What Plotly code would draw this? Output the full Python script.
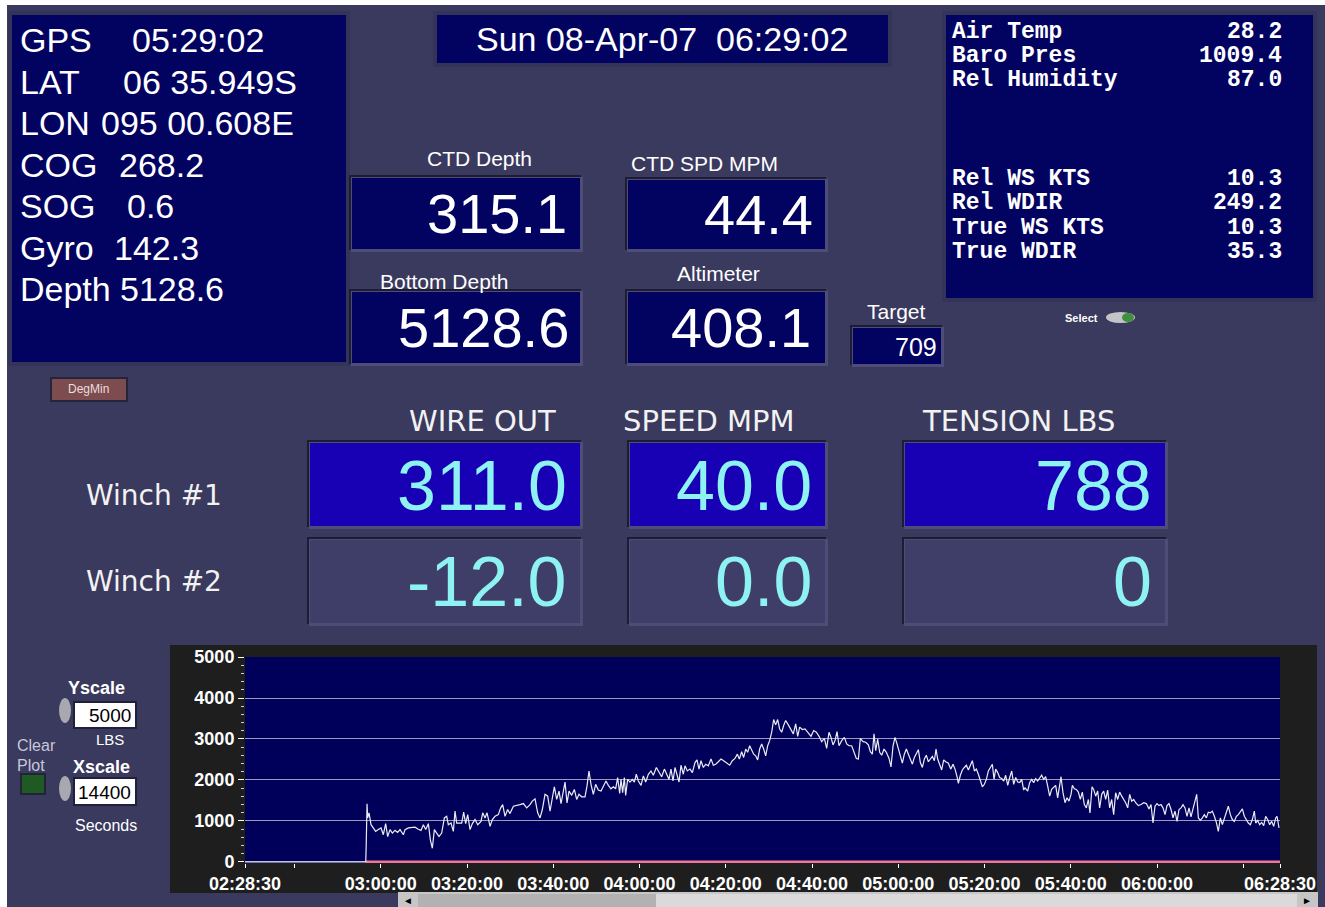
import plotly.graph_objects as go
import pandas as pd

# ---------------- data ----------------
gps_labels = ["GPS", "LAT", "LON", "COG", "SOG", "Gyro", "Depth"]
gps_values = ["05:29:02", "06 35.949S", "095 00.608E", "268.2", "0.6", "142.3", "5128.6"]

date_text = "Sun 08-Apr-07\u00a0\u00a006:29:02"

met_labels = ["Air Temp", "Baro Pres", "Rel Humidity", "Rel WS KTS", "Rel WDIR", "True WS KTS", "True WDIR"]
met_values = ["28.2", "1009.4", "87.0", "10.3", "249.2", "10.3", "35.3"]

ctd_labels = ["CTD Depth", "CTD SPD MPM", "Bottom Depth", "Altimeter"]
ctd_values = ["315.1", "44.4", "5128.6", "408.1"]
target_value = "709"

winch_headers = ["WIRE OUT", "SPEED MPM", "TENSION LBS"]
winch_names = ["Winch #1", "Winch #2"]
winch1_values = ["311.0", "40.0", "788"]
winch2_values = ["-12.0", "0.0", "0"]

yscale_value = "5000"
xscale_value = "14400"

# tension trace: minutes elapsed since 02:28:30, and tension in lbs
elapsed_min = [
    0.0, 28.0, 28.1, 28.3, 28.45, 28.76, 29.22, 29.76, 30.30, 30.92, 31.54, 32.08, 32.62, 33.08, 33.63,
    34.17, 34.79, 35.40, 35.95, 36.72, 37.11, 37.88, 38.65, 39.42, 40.20, 40.81, 41.36, 41.90, 42.52,
    42.98, 43.44, 43.91, 44.45, 44.99, 45.61, 46.23, 46.77, 47.15, 47.77, 48.31, 48.70, 49.09, 49.63,
    50.25, 50.71, 51.17, 51.64, 52.18, 52.72, 53.34, 53.96, 54.73, 55.12, 55.66, 56.12, 56.82, 57.36,
    57.98, 58.75, 59.29, 59.75, 60.30, 60.91, 61.45, 62.23, 63.00, 63.77, 64.55, 65.32, 66.09, 66.63,
    67.25, 67.87, 68.41, 68.95, 69.57, 70.19, 70.73, 71.27, 71.73, 72.28, 72.82, 73.28, 73.82, 74.21,
    74.67, 75.14, 75.75, 76.37, 76.91, 77.45, 78.07, 78.84,
    79.30, 79.77, 80.23, 80.77, 81.31, 81.93, 82.55, 83.09, 83.71, 84.25, 84.87, 85.41, 85.95, 86.41,
    86.88, 87.19, 87.57, 87.96, 88.27, 88.73, 89.27, 89.82, 90.28, 90.74, 91.21, 91.83, 92.37, 92.91,
    93.53, 94.14, 94.69, 95.38, 96.00, 96.62, 97.24, 97.78, 98.32, 98.78, 99.25, 99.71, 100.17, 100.64,
    101.10, 101.64, 102.03, 102.57, 103.19, 103.73, 104.35, 104.81, 105.28, 105.74, 106.28, 106.82,
    107.44, 108.06, 108.60, 109.14, 109.76, 110.38, 110.99, 111.69, 112.39, 113.01, 113.62, 114.17,
    114.63, 115.17, 115.63, 116.10, 116.56, 117.03, 117.49, 117.95, 118.42, 118.88, 119.34, 119.81,
    120.27, 120.74, 121.20, 121.66, 122.13, 122.59, 123.05, 123.52, 123.98, 124.45, 124.91, 125.37,
    125.99, 126.61, 127.15, 127.69, 128.16, 128.62, 129.24, 129.86,
    130.48, 131.25, 131.87, 132.49, 133.11, 133.72, 134.34, 134.88, 135.42, 135.89, 136.35, 136.82,
    137.28, 137.74, 138.36, 138.98, 139.52, 140.06, 140.68, 141.30, 141.76, 142.23, 142.69, 143.31,
    143.93, 144.55, 145.01, 145.47, 145.86, 146.25, 146.71, 147.17, 147.64, 148.18, 148.72, 149.34,
    149.80, 150.27, 150.73, 151.19, 151.66, 152.12, 152.43, 152.89, 153.36, 153.82, 154.29, 154.75,
    155.21, 155.68, 156.14, 156.60, 157.07, 157.53, 157.98, 158.46, 158.92, 159.39, 159.85, 160.24,
    160.62, 161.09, 161.55, 162.02, 162.48, 163.10, 163.64, 164.18, 164.64, 165.11, 165.42, 165.88,
    166.34, 166.81, 167.27, 167.74, 168.20, 168.66, 169.13, 169.59, 170.06, 170.52, 170.98, 171.45,
    171.91, 172.37, 172.84, 173.30, 173.69, 174.07, 174.54, 175.00, 175.47, 175.93, 176.39, 176.86,
    177.32, 177.79, 178.25, 178.71, 179.18, 179.64, 180.10, 180.57, 180.88,
    181.49, 181.95, 182.42, 182.88, 183.34, 183.81, 184.27, 184.73, 185.20, 185.66, 186.13, 186.59,
    187.05, 187.52, 187.98, 188.44, 188.91, 189.22, 189.68, 190.15, 190.61, 191.07, 191.54, 191.85,
    192.31, 192.77, 193.24, 193.70, 194.16, 194.63, 195.09, 195.56, 195.94, 196.41, 196.79, 197.26,
    197.72, 198.18, 198.65, 199.11, 199.58, 200.04, 200.50, 200.97, 201.43, 201.89, 202.36, 202.82,
    203.29, 203.75, 204.21, 204.68, 205.14, 205.61, 206.07, 206.53, 207.15, 207.77, 208.39, 209.01,
    209.62, 210.09, 210.55, 211.02, 211.48, 211.94, 212.41, 212.87, 213.34, 213.80, 214.26, 214.73,
    215.19, 215.65, 216.12, 216.58, 217.05, 217.51, 217.97, 218.44, 218.90, 219.36, 219.83, 220.29,
    220.68, 221.07, 221.53, 221.99, 222.46, 222.92, 223.38, 223.85, 224.31, 224.78, 225.24, 225.70,
    226.17, 226.63, 227.09, 227.56, 228.02, 228.49, 228.95, 229.41, 229.88, 230.34, 230.80, 231.27,
    231.73, 232.20, 232.66, 233.12, 233.59, 234.05, 234.36, 234.82, 235.29, 235.75, 236.22, 236.68,
    237.14, 237.61, 238.07, 238.53, 239.00, 239.31, 239.62, 239.77,
]
tension_lbs = [
    0, 0, 380, 1420, 1075, 1200, 910, 830, 745, 790, 830, 665, 935, 620, 790,
    705, 770, 720, 790, 665, 790, 830, 845, 850, 800, 770, 910, 790, 935,
    540, 335, 790, 705, 620, 705, 1075, 1115, 910, 950, 745, 1240, 950, 950,
    950, 1215, 935, 1155, 790, 935, 1035, 910, 990, 1200, 1075, 1200, 870, 1035,
    1115, 1155, 1320, 1400, 1115, 1280, 1180, 1360, 1375, 1400, 1425, 1320, 1400, 1485,
    1540, 1200, 1075, 1280, 1650, 1605, 1240, 1525, 1835, 1525, 1730, 1425, 1730, 1950,
    1440, 1730, 1625, 1770, 1525, 1650, 1590, 1590,
    1850, 2220, 1895, 1650, 1895, 1755, 1730, 1835, 1975, 1870, 1785, 1835, 1785, 2060,
    1670, 2015, 1690, 2060, 1625, 2015, 1950, 2015, 1950, 2140, 1975, 1870, 2100, 1950,
    2140, 2220, 2115, 2305, 2180, 2080, 2265, 2140, 2015, 2265, 1975, 2305, 2100, 1950,
    2360, 2140, 2345, 2220, 2265, 2180, 2425, 2490, 2265, 2470, 2305, 2385,
    2345, 2510, 2360, 2385, 2445, 2510, 2470, 2425, 2360, 2470, 2525, 2630,
    2510, 2690, 2550, 2755, 2675, 2835, 2715, 2630, 2590, 2490, 2755, 2880,
    2755, 2590, 2835, 2960, 3165, 3475, 3345, 3475, 3245, 3165, 3330, 3450,
    3345, 3230, 3125, 3370, 3065, 3290, 3230, 3245,
    3165, 3065, 3205, 3165, 3065, 2935, 3015, 2770, 3165, 3040, 2855, 2960,
    3180, 2835, 2960, 3040, 2880, 2835, 2835, 2675, 2525, 2510, 3015, 2935,
    2920, 2855, 2690, 2630, 3125, 2715, 3000, 2675, 2605, 2755, 2675, 2525,
    2320, 2835, 3040, 2880, 2715, 2550, 2410, 2630, 2755, 2630, 2510, 2385,
    2550, 2630, 2740, 2425, 2305, 2510, 2605, 2445, 2525, 2575, 2470, 2755,
    2510, 2345, 2245, 2490, 2445, 2410, 2265, 2385, 2265, 2080, 1920, 2115,
    2245, 2305, 2360, 2245, 2345, 2470, 2220, 2265, 2140, 1975, 1835, 1895,
    2015, 2220, 2305, 2385, 2015, 2265, 2180, 2060, 2035, 1975, 2115, 1870,
    2060, 2220, 1895, 2060, 1950, 1935, 2015, 1755, 1810,
    1730, 1935, 2015, 1935, 2035, 1975, 2060, 2115, 2015, 2080, 1850, 1605,
    1770, 1835, 1870, 1565, 1835, 2080, 1690, 1445, 1565, 1485, 1650, 1870,
    1785, 1770, 1705, 1525, 1705, 1400, 1320, 1525, 1195, 1835, 1770, 1605,
    1730, 1320, 1650, 1730, 1525, 1755, 1320, 1525, 1155, 1690, 1525, 1705,
    1605, 1525, 1445, 1320, 1650, 1485, 1525, 1445, 1375, 1400, 1445, 1425,
    1295, 1400, 950, 1360, 1425, 1375, 1400, 1320, 1155, 1375, 1425, 1280,
    1075, 1240, 990, 1280, 1320, 1400, 1320, 1115, 1320, 1100, 1280, 1445,
    1650, 1075, 1015, 1075, 1155, 1075, 1215, 1200, 1240, 1115, 965, 745,
    1075, 910, 1075, 1200, 1360, 1155, 1035, 990, 1115, 1155, 1240, 1295,
    1115, 1015, 950, 910, 1035, 1240, 950, 1015, 910, 965, 885, 1115,
    1035, 910, 990, 870, 1075, 1115, 910, 830,
]
# winch #2 tension (flat zero after it came online)
w2_elapsed_min = [28.0, 240.0]
w2_tension_lbs = [0, 0]

x_start = "2007-04-08 02:28:30"
x_end = "2007-04-08 06:28:30"
x_tick_times = ["02:28:30", "02:40:00", "03:00:00", "03:20:00", "03:40:00", "04:00:00", "04:20:00",
                "04:40:00", "05:00:00", "05:20:00", "05:40:00", "06:00:00", "06:20:00", "06:28:30"]
x_tick_text = ["02:28:30", "", "03:00:00", "03:20:00", "03:40:00", "04:00:00", "04:20:00",
               "04:40:00", "05:00:00", "05:20:00", "05:40:00", "06:00:00", "", "06:28:30"]
y_tick_vals = [0, 1000, 2000, 3000, 4000, 5000]
y_range = [-25, 5000]

# ---------------- helpers ----------------
W, H = 1325, 907
BG = "#3a395e"
NAVY = "#020260"
PLOT_NAVY = "#00005a"
BLUE = "#1800b4"
CYAN = "#8ef2f2"
W2FILL = "#3f3e68"
ARIAL = "Liberation Sans, Arial, sans-serif"
TAHOMA = "DejaVu Sans, sans-serif"
MONO = "Liberation Mono, Courier New, monospace"


def px(x):
    return x / W


def py(y):
    return 1 - y / H


shapes = []
annos = []


def rect(x0, y0, x1, y1, fill, line=None, lw=0, kind="rect"):
    shapes.append(dict(type=kind, xref="paper", yref="paper", layer="below",
                       x0=px(x0), x1=px(x1), y0=py(y1), y1=py(y0),
                       fillcolor=fill, line=dict(color=line or fill, width=lw)))


def sunken(x0, y0, x1, y1, fill):
    rect(x0 - 3, y0 - 3, x1 + 1, y1 + 1, "#1c1c34")
    rect(x0 - 1, y0 - 1, x1 + 3, y1 + 3, "#4e4d78")
    rect(x0, y0, x1, y1, fill)


def text(x, y, s, size, color="white", family=ARIAL, anchor="left", weight="normal"):
    annos.append(dict(xref="paper", yref="paper", x=px(x), y=py(y), text=s, showarrow=False,
                      xanchor=anchor, yanchor="middle", borderpad=0,
                      font=dict(size=size, color=color, family=family, weight=weight)))


# ---------------- static panel graphics ----------------
rect(0, 0, W, 5, "white")
rect(0, 0, 7, H, "white")

# GPS panel
rect(8, 11, 350, 366, "#34335a")
rect(12, 15, 346, 362, NAVY)
gps_val_x = [131, 122, 100, 118, 126, 113, 119]
for i, (lab, val) in enumerate(zip(gps_labels, gps_values)):
    yy = 40 + i * 41.5
    text(19, yy, lab, 34)
    text(gps_val_x[i], yy, val, 34)

# date box
rect(433, 11, 892, 67, "#34335a")
rect(437, 15, 888, 63, NAVY)
text(662, 39, date_text, 34, anchor="center")

# met panel
rect(942, 11, 1317, 302, "#34335a")
rect(946, 15, 1313, 298, NAVY)
met_y = [32, 56, 80, 179, 203, 228, 252]
for lab, val, yy in zip(met_labels, met_values, met_y):
    text(951, yy, lab, 23, family=MONO, weight="bold")
    text(1283, yy, val, 23, family=MONO, weight="bold", anchor="right")
text(1081, 318, "Select", 11, weight="bold", anchor="center")
rect(1106, 312, 1135, 323, "#c4c4c8", kind="circle")
rect(1122, 313, 1134, 322, "#3f8f3f", kind="circle")

# CTD boxes
ctd_boxes = [(352, 178, 580, 249), (628, 180, 825, 249), (352, 292, 580, 363), (628, 292, 825, 363)]
ctd_lab_pos = [(480, 159), (704, 164), (444, 281), (718, 273)]
ctd_val_x = [568, 814, 570, 812]
for (x0, y0, x1, y1), (lx, ly), vx, lab, val in zip(ctd_boxes, ctd_lab_pos, ctd_val_x, ctd_labels, ctd_values):
    sunken(x0, y0, x1, y1, NAVY)
    text(lx, ly, lab, 21, anchor="center")
    text(vx, (y0 + y1) / 2, val, 56, anchor="right")

# target
text(896, 311, "Target", 21, anchor="center")
sunken(853, 328, 941, 364, NAVY)
text(938, 347, target_value, 25, anchor="right")

# DegMin button
rect(50, 377, 128, 402, "#25243e")
rect(52, 379, 126, 400, "#7c4c4e")
text(89, 389, "DegMin", 12, color="#eadede", anchor="center")

# winch table
for hx, h in zip([482, 709, 1018], winch_headers):
    text(hx, 421, h, 29, family=TAHOMA, anchor="center", color="#f2f2f2")
for wy, name in zip([495, 581], winch_names):
    text(85, wy, name, 28, family=TAHOMA, color="#f2f2f2")
winch_cols = [(310, 580, 568), (630, 825, 813), (905, 1165, 1153)]
for (x0, x1, vx), v1, v2 in zip(winch_cols, winch1_values, winch2_values):
    sunken(x0, 443, x1, 526, BLUE)
    text(vx, 486, v1, 70, color=CYAN, anchor="right")
    sunken(x0, 540, x1, 623, W2FILL)
    text(vx, 582, v2, 70, color=CYAN, anchor="right")

# chart controls on the left
text(96, 688, "Yscale", 18, weight="bold", anchor="center")
rect(59, 698, 71, 723, "#a8a8b0", kind="circle")
rect(73, 701, 137, 729, "#20203a")
rect(75, 703, 135, 727, "white")
text(132, 715, yscale_value, 19, color="black", anchor="right")
text(110, 739, "LBS", 15, anchor="center")
text(36, 745, "Clear", 16, color="#c8c8d8", anchor="center")
text(31, 765, "Plot", 16, color="#c8c8d8", anchor="center")
rect(20, 773, 46, 795, "#22223a")
rect(22, 775, 44, 793, "#1f5a22")
text(101, 767, "Xscale", 18, weight="bold", anchor="center")
rect(59, 776, 71, 801, "#a8a8b0", kind="circle")
rect(73, 777, 137, 806, "#20203a")
rect(75, 779, 135, 804, "white")
text(132, 792, xscale_value, 19, color="black", anchor="right")
text(106, 825, "Seconds", 16, anchor="center")

# chart frame and plot area
rect(170, 645, 1317, 893, "#1e1e1e")
rect(245, 657, 1280, 863, PLOT_NAVY)

# scrollbar
rect(398, 892, 1318, H, "#c6c6c6")
rect(418, 894, 656, H, "#b2b2b2")
rect(656, 894, 1297, H, "#dadada")
text(408, 900, "\u25c4", 10, color="black", anchor="center")
text(1307, 900, "\u25ba", 10, color="black", anchor="center")

# ---------------- chart ----------------
base = pd.Timestamp(x_start)
t_x = [base + pd.Timedelta(minutes=m) for m in elapsed_min]
w2_x = [base + pd.Timedelta(minutes=m) for m in w2_elapsed_min]
tick_x = [pd.Timestamp("2007-04-08 " + t) for t in x_tick_times]

fig = go.Figure()
fig.add_trace(go.Scatter(x=w2_x, y=w2_tension_lbs, mode="lines",
                         line=dict(color="#f07896", width=3), hoverinfo="skip", showlegend=False))
fig.add_trace(go.Scatter(x=t_x, y=tension_lbs, mode="lines",
                         line=dict(color="#ececf4", width=1.2), showlegend=False))

fig.update_layout(
    width=W, height=H, autosize=False,
    margin=dict(l=0, r=0, t=0, b=0, pad=0, autoexpand=False),
    paper_bgcolor=BG, plot_bgcolor=PLOT_NAVY,
    shapes=shapes, annotations=annos, showlegend=False,
    xaxis=dict(domain=[px(245), px(1280)], type="date", automargin=False,
               range=[pd.Timestamp(x_start), pd.Timestamp(x_end)],
               tickmode="array", tickvals=tick_x, ticktext=x_tick_text,
               ticks="outside", ticklen=4, tickcolor="white", tickwidth=1,
               showgrid=False, zeroline=False, showline=False,
               tickfont=dict(size=18, color="white", family=ARIAL, weight="bold")),
    yaxis=dict(domain=[py(863), py(657)], range=y_range, automargin=False,
               tickmode="array", tickvals=y_tick_vals,
               ticks="outside", ticklen=6, tickcolor="white", tickwidth=1,
               minor=dict(dtick=200, ticks="outside", ticklen=3, tickcolor="#d0d0d0", showgrid=False),
               showgrid=True, gridcolor="#9c9cba", gridwidth=1,
               zeroline=False, showline=False,
               tickfont=dict(size=18, color="white", family=ARIAL, weight="bold")),
)

fig.write_html("out.html", config={"displayModeBar": False},
               post_script="document.body.style.margin='0';")
